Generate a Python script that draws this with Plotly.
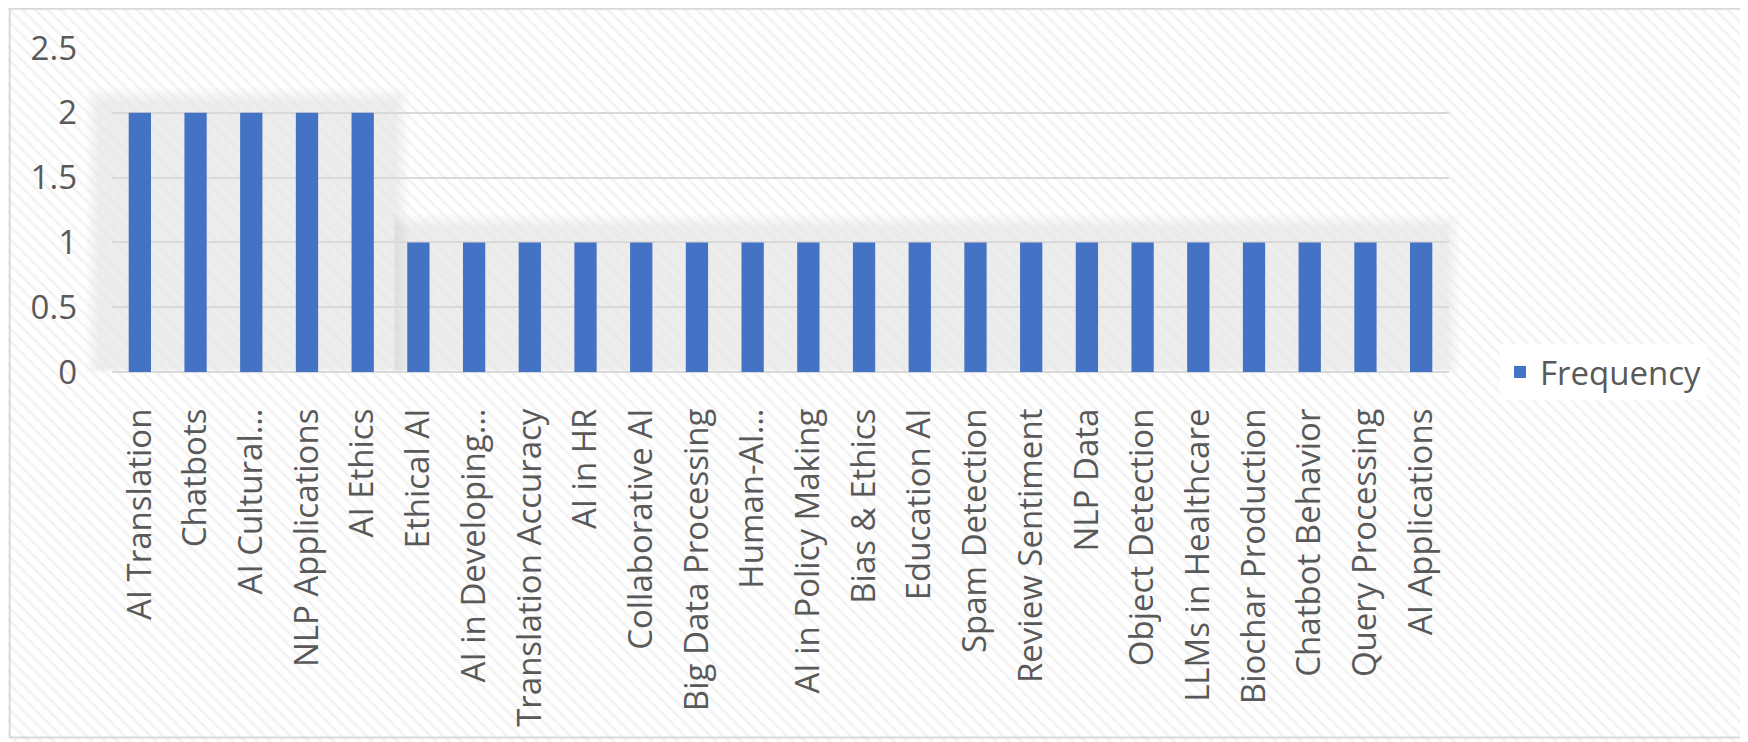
import plotly.graph_objects as go

# data
topics = ['AI Translation', 'Chatbots', 'AI Cultural…', 'NLP Applications', 'AI Ethics',
          'Ethical AI', 'AI in Developing…', 'Translation Accuracy', 'AI in HR',
          'Collaborative AI', 'Big Data Processing', 'Human-AI…', 'AI in Policy Making',
          'Bias & Ethics', 'Education AI', 'Spam Detection', 'Review Sentiment', 'NLP Data',
          'Object Detection', 'LLMs in Healthcare', 'Biochar Production', 'Chatbot Behavior',
          'Query Processing', 'AI Applications']
frequency = [2, 2, 2, 2, 2, 1, 1, 1, 1, 1, 1, 1, 1, 1, 1, 1, 1, 1, 1, 1, 1, 1, 1, 1]
y_ticks = [0, 0.5, 1, 1.5, 2, 2.5]
y_tick_text = ['0', '0.5', '1', '1.5', '2', '2.5']

# the page body has an 8px margin, so the figure is shrunk by that much
OFF = 8
W, H = 1748 - OFF, 742 - OFF
font = 'Open Sans'
grey_txt = '#595959'
fsize = 33


def px(x):
    return (x - OFF) / W


def py(y):
    return 1 - (y - OFF) / H


fig = go.Figure()

# hatched background, drawn on a full-page helper axis
fig.add_trace(go.Bar(x=[0.5], y=[1], width=[1], xaxis='x', yaxis='y',
                     marker=dict(color='rgba(0,0,0,0)', line_width=0,
                                 pattern=dict(shape='\\', fgcolor='#e6e6e6',
                                              bgcolor='rgba(0,0,0,0)', size=9,
                                              solidity=0.3)),
                     showlegend=False, hoverinfo='skip'))

# the real chart
fig.add_trace(go.Bar(x=topics, y=frequency, name='Frequency', xaxis='x2', yaxis='y2',
                     marker=dict(color='#4472C4', line_width=0)))

# soft shadow behind the bar groups (Excel glow effect), in page pixels
shapes = []
for i in range(6):
    g = 14 - i * 2.5
    shapes.append(dict(type='rect', xref='paper', yref='paper', layer='below',
                       x0=px(100 - g), x1=px(395 + g), y0=py(368 + g * 0.4), y1=py(102 - g),
                       fillcolor='rgba(0,0,0,0.013)', line_width=0))
    shapes.append(dict(type='rect', xref='paper', yref='paper', layer='below',
                       x0=px(396 - g * 0.2), x1=px(1446 + g), y0=py(368 + g * 0.4),
                       y1=py(228 - g),
                       fillcolor='rgba(0,0,0,0.013)', line_width=0))
# outer border
shapes.append(dict(type='rect', xref='paper', yref='paper', x0=0.001, x1=0.996,
                   y0=0.006, y1=0.999, line=dict(color='#d9d9d9', width=2)))

fig.update_layout(
    width=W, height=H,
    margin=dict(l=0, r=0, t=0, b=0),
    paper_bgcolor='white',
    plot_bgcolor='rgba(0,0,0,0)',
    bargap=0.6,
    shapes=shapes,
    xaxis=dict(domain=[0, 1], range=[0, 1], visible=False, fixedrange=True),
    yaxis=dict(domain=[0, 1], range=[0, 1], visible=False, fixedrange=True),
    xaxis2=dict(domain=[px(112), px(1449)], anchor='y2', type='category',
                range=[-0.5, len(topics) - 0.5],
                tickangle=-90, tickfont=dict(family=font, size=fsize, color=grey_txt),
                showgrid=False, showline=False, zeroline=False, ticks='',
                ticklabelstandoff=29, automargin=False),
    yaxis2=dict(domain=[py(372), py(48)], anchor='x2', range=[0, 2.5],
                tickvals=y_ticks, ticktext=y_tick_text,
                tickfont=dict(family=font, size=fsize, color=grey_txt),
                showgrid=True, gridcolor='#d9d9d9', gridwidth=2,
                zeroline=True, zerolinecolor='#d9d9d9', zerolinewidth=2,
                showline=False, ticks='', ticklabelstandoff=34, automargin=False),
    showlegend=True,
    legend=dict(x=px(1500), xanchor='left', y=py(372), yanchor='middle',
                bgcolor='white', font=dict(family=font, size=fsize, color=grey_txt),
                itemwidth=30),
    font=dict(family=font),
)

fig.write_html('out.html')
